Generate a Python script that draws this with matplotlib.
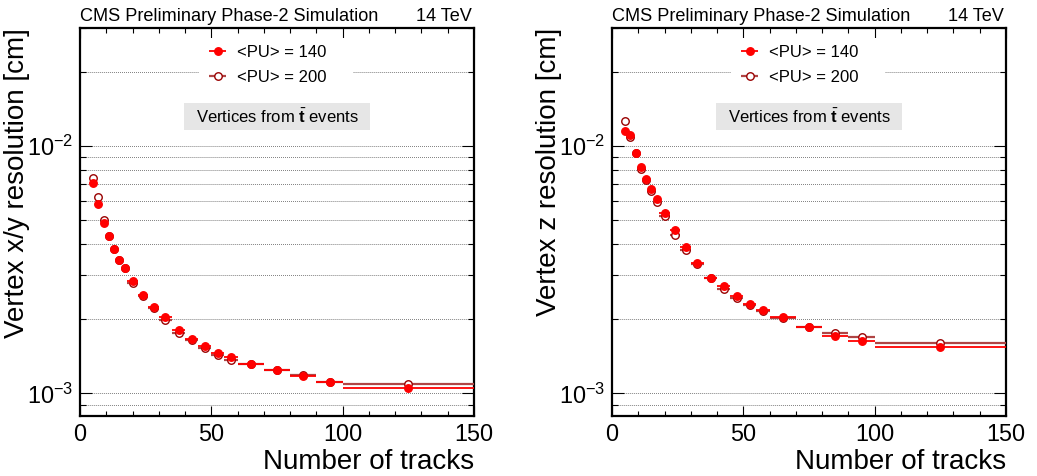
import matplotlib
matplotlib.use("Agg")
import matplotlib.pyplot as plt
import numpy as np
from matplotlib.ticker import LogLocator, NullFormatter, FixedLocator
from matplotlib.patches import Rectangle

plt.rcParams['font.family'] = ['Liberation Sans', 'DejaVu Sans']
plt.rcParams['mathtext.fontset'] = 'custom'
plt.rcParams['mathtext.rm'] = 'Liberation Sans'
plt.rcParams['mathtext.it'] = 'Liberation Sans:italic'
plt.rcParams['mathtext.bf'] = 'Liberation Sans:bold'

# ---- data ----
bin_edges = [4, 6, 8, 10, 12, 14, 16, 18, 22, 26, 30, 35, 40, 45, 50, 55, 60, 70, 80, 90, 100, 150]

xy_pu140 = [0.00708, 0.00582, 0.00489, 0.00434, 0.00383, 0.00347, 0.00321, 0.00285, 0.00250,
            0.00223, 0.00203, 0.00180, 0.00166, 0.00155, 0.00146, 0.00140, 0.00132, 0.00124,
            0.001174, 0.00111, 0.00105]
xy_pu200 = [0.00745, 0.00624, 0.00504, 0.00434, 0.00383, 0.00347, 0.00321, 0.00280, 0.00247,
            0.00222, 0.00198, 0.00176, 0.00165, 0.00152, 0.00143, 0.00137, 0.00132, 0.00124,
            0.00119, 0.00111, 0.00109]

z_pu140 = [0.01153, 0.01110, 0.00939, 0.00825, 0.00738, 0.00669, 0.00610, 0.00535, 0.00457,
           0.00391, 0.00338, 0.00294, 0.00272, 0.00248, 0.00229, 0.00217, 0.00204, 0.00186,
           0.00170, 0.001625, 0.001533]
z_pu200 = [0.01265, 0.01085, 0.00939, 0.00810, 0.00727, 0.00660, 0.00594, 0.00522, 0.00437,
           0.00380, 0.00333, 0.00292, 0.00264, 0.00244, 0.00228, 0.00216, 0.00201, 0.00186,
           0.00176, 0.00169, 0.00160]

series_labels = ['<PU> = 140', '<PU> = 200']
ylabels = ['Vertex x/y resolution [cm]', 'Vertex z resolution [cm]']
xlabel = 'Number of tracks'
title_left = 'CMS Preliminary Phase-2 Simulation'
title_right = '14 TeV'
box_text = r'Vertices from $\bar{\mathbf{t}}$ events'

edges = np.array(bin_edges, dtype=float)
centers = 0.5 * (edges[:-1] + edges[1:])
halfw = 0.5 * (edges[1:] - edges[:-1])

c140 = '#ff0000'
c200 = '#990000'
c200line = '#b04444'

fig = plt.figure(figsize=(10.37, 4.76), dpi=100)
W, H = 1037., 476.
ax_h = 388 / H
ax_b = 1 - 416 / H
ax_w = 394 / W
axes = [fig.add_axes([80 / W, ax_b, ax_w, ax_h]),
        fig.add_axes([612 / W, ax_b, ax_w, ax_h])]

for ax, v140, v200, ylab in zip(axes, [xy_pu140, z_pu140], [xy_pu200, z_pu200], ylabels):
    ax.set_yscale('log')
    ax.set_xlim(0, 150)
    ax.set_ylim(8.1e-4, 0.03)
    ax.errorbar(centers, v200, xerr=halfw, fmt='o', ms=5.4, mfc='white', mec=c200, mew=1.0,
                ecolor=c200line, elinewidth=1.6, capsize=0, zorder=4, label=series_labels[1])
    ax.errorbar(centers, v140, xerr=halfw, fmt='o', ms=5.4, mfc=c140, mec=c140,
                ecolor=c140, elinewidth=1.3, capsize=0, zorder=5, label=series_labels[0])

    ax.yaxis.set_major_locator(LogLocator(base=10, numticks=10))
    ax.yaxis.set_minor_locator(LogLocator(base=10, subs=np.arange(2, 10), numticks=20))
    ax.yaxis.set_minor_formatter(NullFormatter())
    ax.xaxis.set_major_locator(FixedLocator([0, 50, 100, 150]))
    ax.xaxis.set_minor_locator(FixedLocator(np.arange(0, 151, 10)))
    ax.grid(axis='y', which='both', linestyle=(0, (1, 1.6)), color='#333333', linewidth=0.55, zorder=1)

    ax.tick_params(which='both', direction='in', top=True, right=True, width=0.8)
    ax.tick_params(axis='y', which='major', length=8.5, labelsize=16.8, pad=5)
    ax.tick_params(axis='y', which='minor', length=4.5)
    ax.tick_params(axis='x', which='major', length=7.5, labelsize=16.8, pad=5)
    ax.tick_params(axis='x', which='minor', length=3.8)
    for sp in ax.spines.values():
        sp.set_linewidth(1.6)

    ax.set_xlabel(xlabel, fontsize=20, loc='right')
    ax.xaxis.set_label_coords(1.0, -0.086)
    ax.set_ylabel(ylab, fontsize=20, loc='top')
    ax.yaxis.set_label_coords(-0.128, 1.0)

    ax.text(0.0, 1 + 7 / 388, title_left, transform=ax.transAxes, fontsize=13.1, ha='left', va='baseline')
    ax.text(0.995, 1 + 7 / 388, title_right, transform=ax.transAxes, fontsize=13.1, ha='right', va='baseline')

    # white legend background
    ax.add_patch(Rectangle((0.302, 0.84), 0.391, 0.134, transform=ax.transAxes,
                           facecolor='white', edgecolor='none', zorder=2))
    h, l = ax.get_legend_handles_labels()
    order = [l.index(series_labels[0]), l.index(series_labels[1])]
    leg = ax.legend([h[i] for i in order], [l[i] for i in order], loc='upper left',
                    bbox_to_anchor=(0.317, 0.957), frameon=False, fontsize=12,
                    handlelength=1.55, handletextpad=0.36, labelspacing=0.6, borderaxespad=0,
                    borderpad=0.0)
    leg.set_zorder(6)

    # gray text box
    ax.add_patch(Rectangle((0.264, 0.737), 0.472, 0.070, transform=ax.transAxes,
                           facecolor='#e6e6e6', edgecolor='none', zorder=2))
    ax.text(0.5, 0.772, box_text, transform=ax.transAxes, fontsize=12, ha='center',
            va='center', zorder=3)

fig.savefig('out.png', dpi=100)
